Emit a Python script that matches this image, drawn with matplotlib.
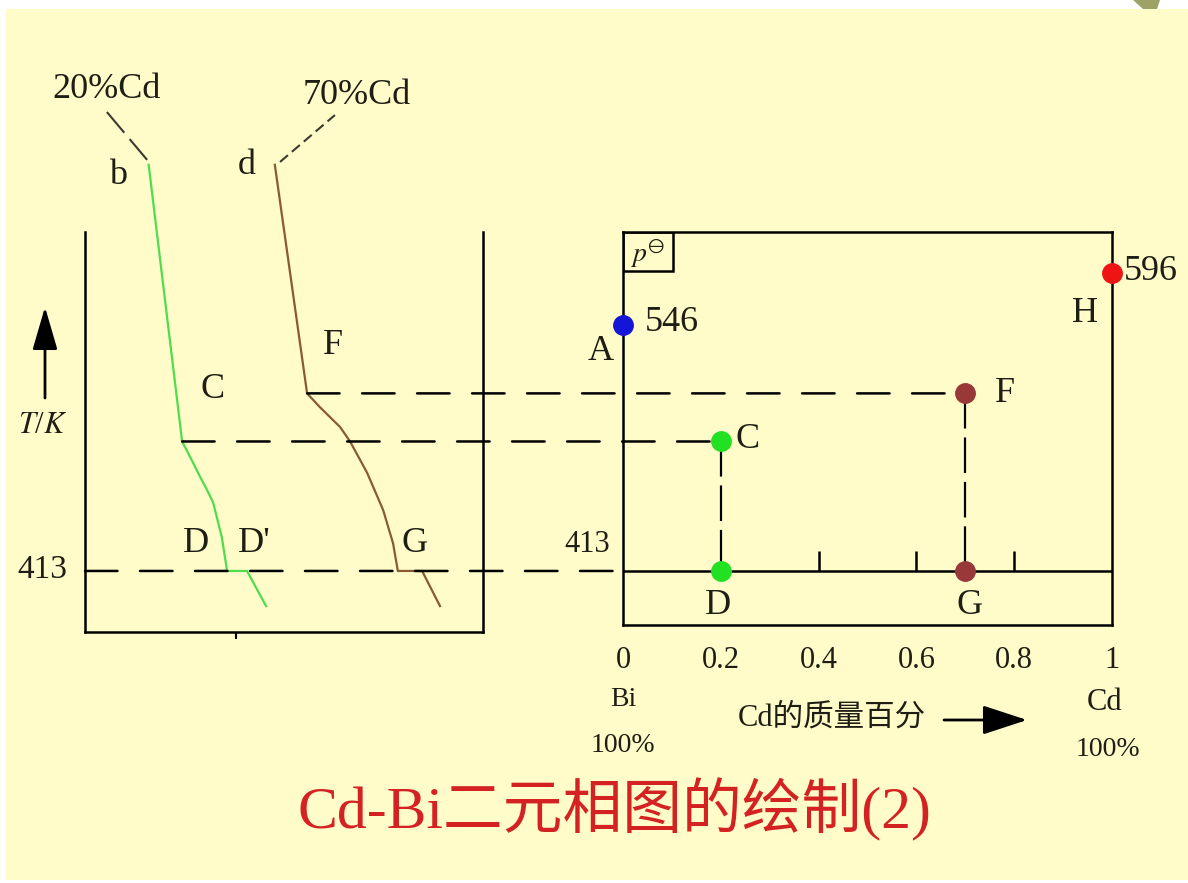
import numpy as np
import matplotlib
matplotlib.use('Agg')
import matplotlib.pyplot as plt
from matplotlib.patches import Rectangle, ConnectionPatch, Polygon, FancyArrowPatch

W, H = 1188, 883

# Cooling curves: time (arbitrary units) against temperature / K
t_20 = [16.0, 24.4, 26.8, 28.9, 30.6, 32.2, 34.4, 35.7, 40.7, 45.5]
T_20 = [700, 483, 473, 464, 457, 450, 431, 413, 413, 394]
t_70 = [47.7, 55.8, 59.0, 64.1, 66.6, 70.9, 74.9, 77.4, 78.6, 84.7, 89.2]
T_70 = [700, 509, 501.6, 490.8, 483, 466, 446, 428, 413, 413, 394]

# Phase diagram points (mass fraction of Cd, T / K)
x_A, T_A = 0.0, 546      # Bi melting point
x_H, T_H = 1.0, 596      # Cd melting point
x_C, T_C = 0.2, 483      # 20% Cd, first break
x_F, T_F = 0.7, 509      # 70% Cd, first break
T_eut = 413              # eutectic halt
comp_ticks = [0, 0.2, 0.4, 0.6, 0.8, 1]
comp_labels = ['0', '0.2', '0.4', '0.6', '0.8', '1']
minor_comp = [0.4, 0.6, 0.8]

INK = '#1e1e14'
CREAM = '#FFFCCA'
DASH = (0, (13, 9))
VDASH = (0, (16, 4))

plt.rcParams['font.family'] = ['Liberation Serif', 'Noto Sans CJK SC', 'DejaVu Sans']
plt.rcParams['mathtext.fontset'] = 'stix'


def squeeze(T):
    """Compress the temperature axis above the Bi melting point."""
    T = np.asarray(T, dtype=float)
    return np.where(T > 546, 546 + (T - 546) * 0.562, T)


def unsqueeze(u):
    u = np.asarray(u, dtype=float)
    return np.where(u > 546, 546 + (u - 546) / 0.562, u)


def fpos(x, y):
    """Pixel position (from top-left) to figure fraction."""
    return x / W, 1 - y / H


def label(x, y, s, size=26, ha='center', **kw):
    kw.setdefault('color', INK)
    fig.text(*fpos(x, y), s, ha=ha, va='center', fontsize=size, **kw)


def arrow(start, end, head_length, head_width):
    fig.add_artist(FancyArrowPatch(
        fpos(*start), fpos(*end), transform=fig.transFigure,
        arrowstyle='-|>,head_length=%s,head_width=%s' % (head_length, head_width),
        mutation_scale=22, color='k', lw=2, shrinkA=0, shrinkB=0))


fig = plt.figure(figsize=(W / 100, H / 100), dpi=100, facecolor='white')
fig.add_artist(Rectangle(fpos(6, 880), (W - 6) / W, 871 / H,
                         transform=fig.transFigure, facecolor=CREAM,
                         edgecolor='none', zorder=-10))
fig.add_artist(Polygon([fpos(1133, 0), fpos(1160, 0), fpos(1157, 9), fpos(1143, 9)],
                       closed=True, transform=fig.transFigure,
                       facecolor='#9ea266', edgecolor='none', zorder=-5))

# left: cooling curves
ax_l = fig.add_axes([85 / W, 1 - 632 / H, 398 / W, 400 / H])
ax_l.set_facecolor('none')
ax_l.set_yscale('function', functions=(squeeze, unsqueeze))
ax_l.set_xlim(0, 100)
ax_l.set_ylim(380.0, 635.4)
ax_l.spines['top'].set_visible(False)
for side in ('left', 'right', 'bottom'):
    ax_l.spines[side].set_linewidth(1.8)
    ax_l.spines[side].set_color('k')
ax_l.set_yticks([])
ax_l.yaxis.set_minor_locator(matplotlib.ticker.NullLocator())
ax_l.set_xticks([38])
ax_l.set_xticklabels([])
ax_l.tick_params(axis='x', length=5, width=1.5, direction='out')

ax_l.plot(t_20, T_20, color='#4fdc4f', lw=1.6, clip_on=False, zorder=3)
ax_l.plot(t_70, T_70, color='#8a5a32', lw=1.6, clip_on=False, zorder=3)
# leader lines up to the composition labels
ax_l.plot([15.6, 5.5], [704.8, 750.8], color='#3a3a30', lw=1.5,
          ls=(0, (13, 4)), clip_on=False)
ax_l.plot([49.0, 62.8], [702.8, 747.9], color='#3a3a30', lw=1.5,
          ls=(0, (5, 2.5)), clip_on=False)

# right: phase diagram
ax_r = fig.add_axes([623 / W, 1 - 625 / H, 489 / W, 393 / H])
ax_r.set_facecolor('none')
ax_r.set_yscale('function', functions=(squeeze, unsqueeze))
ax_r.set_xlim(0, 1)
ax_r.set_ylim(383.8, 635.4)
for side in ax_r.spines:
    ax_r.spines[side].set_linewidth(1.8)
    ax_r.spines[side].set_color('k')
ax_r.set_yticks([])
ax_r.yaxis.set_minor_locator(matplotlib.ticker.NullLocator())
ax_r.set_xticks(comp_ticks)
ax_r.set_xticklabels(comp_labels, fontsize=22, color=INK)
ax_r.tick_params(axis='x', length=0, pad=15)

ax_r.axhline(T_eut, color='k', lw=1.8)
ax_r.vlines(minor_comp, T_eut, T_eut + 11, color='k', lw=1.8)
ax_r.plot([x_C, x_C], [T_C, T_eut], color='k', lw=1.6, ls=VDASH)
ax_r.plot([x_F, x_F], [T_F, T_eut], color='k', lw=1.6, ls=VDASH)

# standard-pressure box in the corner
ax_r.add_patch(Rectangle((0, 0.9), 0.102, 0.1, transform=ax_r.transAxes,
                         facecolor='none', edgecolor='k', lw=1.8, zorder=4))
ax_r.text(0.051, 0.945, r'$p^{\ominus}$', transform=ax_r.transAxes,
          ha='center', va='center', fontsize=20, color=INK)

# dashed levels carried across from the cooling curves
for xa, xb, level in [(t_70[1], x_F, T_F), (t_20[1], x_C, T_C), (0, 0, T_eut)]:
    fig.add_artist(ConnectionPatch(xyA=(xa, level), coordsA='data', axesA=ax_l,
                                   xyB=(xb, level), coordsB='data', axesB=ax_r,
                                   color='k', lw=1.8, linestyle=DASH, zorder=2))

ax_r.plot([x_A], [T_A], 'o', ms=14, color='#1515d8', clip_on=False, zorder=6)
ax_r.plot([x_H], [T_H], 'o', ms=14, color='#ee1414', clip_on=False, zorder=6)
ax_r.plot([x_C, x_C], [T_C, T_eut], 'o', ms=14, color='#22e022', ls='none',
          clip_on=False, zorder=6)
ax_r.plot([x_F, x_F], [T_F, T_eut], 'o', ms=14, color='#993838', ls='none',
          clip_on=False, zorder=6)

# labels on the cooling curves
label(107, 90, '20%Cd')
label(357, 95, '70%Cd')
label(118, 175, 'b')
label(247, 165, 'd')
label(333, 345, 'F')
label(213, 390, 'C')
label(196, 543, 'D')
label(254, 543, "D'")
label(415, 543, 'G')
label(42, 570, '413', size=24)
label(43, 425, '$T$/$K$', size=22)
arrow((45, 398), (45, 307), 1.2, 0.35)

# labels on the phase diagram
label(645, 322, '546', ha='left')
label(1124, 272, '596', ha='left')
label(601, 352, 'A')
label(1085, 313, 'H')
label(1005, 393, 'F')
label(748, 440, 'C')
label(718, 605, 'D')
label(970, 605, 'G')
label(587, 544, '413', size=22)
label(623, 700, 'Bi', size=20)
label(623, 745, '100%', size=20)
label(1105, 703, 'Cd', size=22)
label(1108, 749, '100%', size=20)
label(832, 718, 'Cd的质量百分', size=22)
arrow((944, 720), (1027, 720), 1.25, 0.41)

label(614, 810, 'Cd-Bi二元相图的绘制(2)', size=43, color='#d42222')

fig.savefig('out.png', dpi=100, facecolor=fig.get_facecolor())
